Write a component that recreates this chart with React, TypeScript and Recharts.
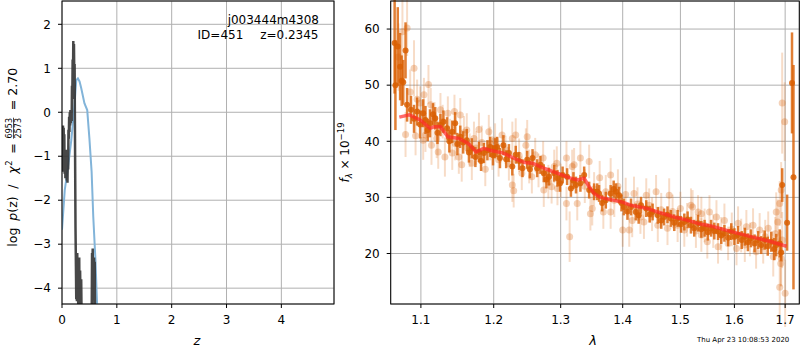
import React from 'react';
import { ComposedChart, Line, Scatter, ErrorBar, XAxis, YAxis, CartesianGrid } from 'recharts';

const FONT = '"DejaVu Sans", sans-serif';

// left panel: log p(z) and scaled chi2 vs redshift
const zTicks = [0, 1, 2, 3, 4];
const logpTicks = [-4, -3, -2, -1, 0, 1, 2];
const chiZ = [0.0, 0.05, 0.11, 0.17, 0.22, 0.26, 0.29, 0.32, 0.35, 0.41, 0.46, 0.5, 0.54, 0.57, 0.61, 0.63, 0.66];
const chiVal = [-2.67, -1.77, -1.24, -0.63, 0.05, 0.73, 0.77, 0.7, 0.55, 0.2, 0.05, -0.6, -1.35, -2.37, -3.36, -4.04, -5.0];
const pzZ = [
  0.0, 0.006, 0.012, 0.018, 0.024, 0.03, 0.036, 0.042, 0.048, 0.055,
  0.062, 0.068, 0.074, 0.08, 0.087, 0.094, 0.1, 0.106, 0.112, 0.118,
  0.124, 0.13, 0.136, 0.142, 0.148, 0.154, 0.16, 0.17, 0.176, 0.182,
  0.188, 0.194, 0.2, 0.206, 0.212, 0.218, 0.224, 0.23, 0.238, 0.246,
  0.254, 0.26, 0.266, 0.272, 0.278, 0.284, 0.29, 0.296, 0.302, 0.308,
  0.314, 0.32, 0.33, 0.34, 0.35, 0.36, 0.45, 0.54, 0.548, 0.554,
  0.56, 0.566, 0.572, 0.578, 0.584, 0.59, 0.596, 0.602, 0.62,
];
const pzVal = [
  -1.0, -0.35, -1.35, -0.3, -1.3, -0.35, -1.0, -0.5, -1.4, -0.9,
  -1.5, -1.0, -1.45, -0.85, -1.55, -0.95, -1.6, -0.9, -1.3, -0.4,
  -0.6, -0.1, -0.45, 0.0, -0.3, 0.05, -0.25, 0.0, -0.2, 0.6,
  0.3, 1.2, 0.7, 1.62, 0.9, 1.55, 0.8, 1.1, -0.8, -2.6,
  -3.5, -4.25, -3.25, -4.3, -3.2, -4.0, -3.3, -4.4, -3.5, -4.2,
  -3.3, -4.6, -3.6, -4.5, -3.8, -5.0, -7.0, -5.0, -3.2, -3.9,
  -3.1, -4.2, -3.4, -4.0, -3.3, -4.4, -3.4, -4.6, -6.0,
];

// right panel: spectrum
const lamTicks = [1.1, 1.2, 1.3, 1.4, 1.5, 1.6, 1.7];
const fluxTicks = [20, 30, 40, 50, 60];

const faintLam = [
  1.071, 1.076, 1.082, 1.08, 1.086, 1.091, 1.093, 1.095, 1.099, 1.103,
  1.104, 1.106, 1.11, 1.113, 1.114, 1.118, 1.121, 1.123, 1.126, 1.129,
  1.132, 1.136, 1.139, 1.142, 1.145, 1.146, 1.151, 1.153, 1.155, 1.158,
  1.162, 1.166, 1.169, 1.172, 1.175, 1.179, 1.183, 1.188, 1.193, 1.195,
  1.198, 1.202, 1.207, 1.212, 1.217, 1.222, 1.227, 1.227, 1.229, 1.232,
  1.237, 1.241, 1.247, 1.249, 1.252, 1.256, 1.261, 1.266, 1.273, 1.274,
  1.281, 1.286, 1.29, 1.294, 1.295, 1.3, 1.309, 1.309, 1.314, 1.318,
  1.321, 1.326, 1.331, 1.338, 1.345, 1.347, 1.35, 1.353, 1.362, 1.368,
  1.372, 1.38, 1.38, 1.386, 1.392, 1.4, 1.405, 1.411, 1.416, 1.419,
  1.425, 1.43, 1.436, 1.44, 1.445, 1.45, 1.457, 1.46, 1.466, 1.477,
  1.48, 1.486, 1.495, 1.5, 1.507, 1.512, 1.519, 1.522, 1.528, 1.532,
  1.538, 1.538, 1.544, 1.549, 1.553, 1.56, 1.566, 1.569, 1.575, 1.581,
  1.588, 1.595, 1.604, 1.607, 1.613, 1.62, 1.623, 1.63, 1.636, 1.642,
  1.649, 1.656, 1.66, 1.666, 1.676, 1.68, 1.682, 1.685, 1.689, 1.689,
  1.691, 1.692, 1.692, 1.694, 1.694, 1.699, 1.7,
];
const faintFlux = [
  55.0, 59.5, 60.2, 41.2, 48.8, 53.0, 41.0, 47.5, 46.8, 40.2,
  48.3, 41.1, 50.1, 46.5, 39.3, 44.0, 40.5, 38.1, 45.6, 43.5,
  37.2, 45.0, 41.0, 37.9, 45.3, 39.6, 37.2, 44.7, 35.8, 41.5,
  42.0, 38.4, 36.1, 40.5, 38.8, 42.1, 39.8, 35.0, 41.7, 39.6,
  37.9, 40.2, 36.7, 41.1, 38.5, 36.0, 40.5, 32.2, 31.2, 41.1,
  37.5, 34.3, 39.3, 40.8, 35.5, 33.7, 37.6, 34.8, 37.0, 31.3,
  32.8, 31.9, 35.5, 36.1, 31.6, 33.0, 37.0, 28.9, 23.0, 35.5,
  35.8, 28.9, 37.0, 32.0, 36.4, 27.1, 28.0, 31.5, 33.5, 27.4,
  31.0, 34.0, 27.4, 29.5, 32.0, 24.2, 30.5, 24.2, 25.9, 30.7,
  28.8, 26.5, 25.6, 30.4, 28.6, 27.0, 31.0, 25.05, 27.8, 24.5,
  30.4, 27.5, 25.05, 28.0, 24.2, 26.0, 28.6, 28.3, 24.0, 27.4,
  27.1, 23.3, 25.0, 22.1, 27.4, 24.0, 26.5, 21.2, 23.5, 25.9,
  21.8, 24.3, 20.9, 25.4, 23.2, 21.5, 24.75, 22.5, 25.05, 20.3,
  24.2, 21.2, 23.0, 24.5, 19.4, 23.5, 27.4, 25.6, 28.9, 14.0,
  18.2, 31.3, 19.1, 46.8, 22.4, 43.5, 12.9,
];
const faintErr = [
  6, 6, 5, 4, 4, 5, 3.5, 3.5, 3, 3.5,
  3, 3, 3.5, 3, 3.5, 3, 3.5, 3, 3, 3,
  3.5, 3, 3, 3, 3, 3, 3, 3, 3, 3,
  3, 3, 3, 3, 3, 3, 3, 3, 3, 3,
  3, 3, 3, 3, 2.5, 3, 3, 3, 3, 3,
  3, 3, 3, 3, 3, 3, 3, 3, 3, 3,
  3, 3, 3, 3, 3, 3, 3, 3, 4.5, 3,
  3, 3, 3, 3, 3, 3, 3, 3, 3, 3,
  3, 3, 3, 3, 3, 3, 3, 3, 3, 3,
  3, 3, 3, 3, 3, 3, 3, 3, 3, 3,
  3, 3, 3, 3, 3, 3, 3, 3, 3, 3,
  3, 3, 3, 3, 3, 3, 3, 3, 3, 3,
  3, 3, 3, 3, 3, 3, 3, 3, 3, 3,
  3, 3, 3, 3, 3.5, 3, 3.5, 4, 4, 6,
  4, 5, 5, 9, 5, 7, 6,
];

const darkLam = [
  1.066, 1.067, 1.07, 1.073, 1.075, 1.077, 1.08, 1.082, 1.087, 1.091,
  1.095, 1.099, 1.103, 1.106, 1.109, 1.112, 1.116, 1.119, 1.122, 1.126,
  1.13, 1.135, 1.138, 1.142, 1.146, 1.149, 1.153, 1.157, 1.162, 1.165,
  1.169, 1.174, 1.179, 1.182, 1.186, 1.191, 1.195, 1.199, 1.202, 1.205,
  1.209, 1.214, 1.218, 1.222, 1.227, 1.232, 1.237, 1.242, 1.249, 1.253,
  1.257, 1.264, 1.269, 1.274, 1.278, 1.282, 1.29, 1.295, 1.299, 1.303,
  1.31, 1.316, 1.32, 1.324, 1.331, 1.337, 1.345, 1.353, 1.358, 1.361,
  1.366, 1.372, 1.38, 1.385, 1.389, 1.394, 1.398, 1.402, 1.408, 1.414,
  1.422, 1.427, 1.431, 1.44, 1.446, 1.451, 1.46, 1.466, 1.471, 1.477,
  1.483, 1.489, 1.495, 1.501, 1.507, 1.513, 1.519, 1.525, 1.532, 1.538,
  1.544, 1.55, 1.556, 1.562, 1.569, 1.575, 1.581, 1.588, 1.594, 1.6,
  1.607, 1.614, 1.62, 1.626, 1.632, 1.639, 1.646, 1.652, 1.659, 1.665,
  1.672, 1.678, 1.682, 1.689, 1.694, 1.692, 1.704, 1.714, 1.717,
];
const darkFlux = [
  57.5, 50.0, 56.9, 53.3, 50.8, 50.5, 56.2, 46.5, 45.6, 44.0,
  45.3, 43.0, 45.0, 43.8, 42.0, 43.2, 44.8, 44.1, 41.5, 42.9,
  43.5, 42.3, 40.0, 41.7, 43.2, 39.5, 40.8, 39.8, 40.2, 38.0,
  38.75, 37.2, 38.1, 36.5, 37.9, 38.4, 39.0, 37.5, 38.75, 39.0,
  37.0, 39.3, 36.8, 37.9, 35.5, 37.6, 36.5, 35.2, 36.7, 35.0,
  37.0, 35.2, 35.8, 34.3, 33.2, 33.7, 34.3, 33.4, 32.5, 34.0,
  33.7, 31.6, 33.0, 32.2, 32.5, 34.0, 31.3, 31.0, 31.0, 30.7,
  29.0, 29.5, 30.7, 31.5, 31.0, 30.4, 29.0, 28.3, 27.5, 28.3,
  27.4, 26.8, 28.6, 28.0, 27.0, 27.4, 26.8, 25.9, 26.5, 26.9,
  26.25, 25.5, 26.25, 25.2, 25.6, 26.0, 25.05, 24.5, 25.4, 24.3,
  24.5, 23.8, 24.5, 24.0, 23.9, 23.2, 23.6, 22.8, 23.9, 23.0,
  23.3, 22.4, 23.0, 22.0, 22.7, 21.8, 22.4, 21.5, 22.4, 21.3,
  22.1, 20.8, 21.5, 21.8, 32.2, 20.2, 25.5, 50.4, 33.6,
];
const darkErr = [
  9, 8, 7, 6, 4.5, 4, 5, 3, 2.5, 2.5,
  2.5, 2.5, 2.5, 2.5, 2, 2.5, 2, 2, 2, 2,
  2, 2, 2, 2, 2, 2, 2, 2, 2, 1.8,
  1.8, 1.8, 1.8, 1.8, 1.8, 1.8, 1.8, 1.8, 1.8, 1.8,
  1.8, 1.8, 1.6, 1.6, 1.6, 1.6, 1.6, 1.6, 1.6, 1.6,
  1.6, 1.6, 1.6, 1.6, 1.6, 1.6, 1.5, 1.5, 1.5, 1.5,
  1.5, 1.5, 1.5, 1.5, 1.5, 1.5, 1.5, 1.5, 1.5, 1.5,
  1.5, 1.5, 1.5, 1.5, 1.5, 1.5, 1.5, 1.5, 1.5, 1.5,
  1.5, 1.5, 1.5, 1.5, 1.5, 1.5, 1.5, 1.5, 1.5, 1.5,
  1.5, 1.5, 1.5, 1.5, 1.5, 1.5, 1.5, 1.5, 1.5, 1.5,
  1.5, 1.5, 1.5, 1.5, 1.5, 1.5, 1.5, 1.5, 1.5, 1.5,
  1.6, 1.6, 1.6, 1.6, 1.6, 1.6, 1.6, 1.6, 1.7, 1.7,
  1.8, 2, 2, 2.5, 3, 1.5, 5, 9, 20,
];

const modelLam = [
  1.072, 1.085, 1.099, 1.112, 1.118, 1.126, 1.136, 1.151, 1.164, 1.175,
  1.186, 1.195, 1.214, 1.229, 1.245, 1.257, 1.274, 1.295, 1.316, 1.326,
  1.337, 1.345, 1.353, 1.363, 1.38, 1.398, 1.414, 1.443, 1.46, 1.489,
  1.513, 1.538, 1.556, 1.594, 1.632, 1.672, 1.703,
];
const modelFlux = [
  44.3, 44.7, 43.8, 42.3, 42.6, 42.6, 40.8, 40.5, 39.6, 38.1,
  38.75, 38.4, 37.9, 37.0, 36.2, 36.1, 35.2, 34.3, 33.4, 33.1,
  33.4, 31.9, 30.7, 30.0, 29.6, 29.2, 28.6, 28.0, 27.4, 26.5,
  25.9, 25.2, 24.9, 23.9, 23.0, 22.1, 21.3,
];

const zip = (xs: number[], ys: number[], es?: number[]) =>
  xs.map((x, i) => ({ x, y: ys[i], e: es ? es[i] : 0 }));

const chiData = zip(chiZ, chiVal);
const pzData = zip(pzZ, pzVal);
const faintData = zip(faintLam, faintFlux, faintErr);
const darkData = zip(darkLam, darkFlux, darkErr);
const modelData = zip(modelLam, modelFlux);

const ORANGE = '#d95f02';
const tickStyle = { fontSize: 12, fill: '#000', fontFamily: FONT };
const fmtMinus = (v: number) => String(v).replace('-', '\u2212');

export default function App() {
  return (
    <div style={{ position: 'absolute', left: 0, top: 0, width: 800, height: 350, background: '#fff', fontFamily: FONT }}>
      <div style={{ position: 'absolute', left: 0, top: 0 }}>
        <ComposedChart width={340} height={350} margin={{ top: 1, right: 6, bottom: 16, left: 0 }}>
          <CartesianGrid stroke="#b0b0b0" strokeWidth={1} />
          <XAxis
            type="number"
            dataKey="x"
            domain={[0, 4.96]}
            ticks={zTicks}
            allowDataOverflow
            height={30}
            axisLine={false}
            tickLine={{ stroke: '#000' }}
            tickSize={4}
            tickMargin={7}
            tick={tickStyle}
          />
          <YAxis
            type="number"
            dataKey="y"
            domain={[-4.36, 2.53]}
            ticks={logpTicks}
            allowDataOverflow
            width={62}
            axisLine={false}
            tickLine={{ stroke: '#000' }}
            tickSize={4}
            tickMargin={7}
            tick={tickStyle}
            tickFormatter={fmtMinus}
          />
          <Line data={chiData} dataKey="y" stroke="#82b4d9" strokeWidth={2} dot={false} isAnimationActive={false} />
          <Line data={pzData} dataKey="y" stroke="#333" strokeOpacity={0.9} strokeWidth={2.5} dot={false} isAnimationActive={false} />
        </ComposedChart>
      </div>

      <div style={{ position: 'absolute', left: 340, top: 0 }}>
        <ComposedChart width={460} height={350} margin={{ top: 1, right: 0.7, bottom: 16, left: 0 }}>
          <CartesianGrid stroke="#b0b0b0" strokeWidth={1} />
          <XAxis
            type="number"
            dataKey="x"
            scale="log"
            domain={[1.061, 1.729]}
            ticks={lamTicks}
            allowDataOverflow
            height={30}
            axisLine={false}
            tickLine={{ stroke: '#000' }}
            tickSize={4}
            tickMargin={7}
            tick={tickStyle}
          />
          <YAxis
            type="number"
            dataKey="y"
            domain={[11, 65]}
            ticks={fluxTicks}
            allowDataOverflow
            width={50.7}
            axisLine={false}
            tickLine={{ stroke: '#000' }}
            tickSize={4}
            tickMargin={7}
            tick={tickStyle}
          />
          <Scatter
            data={faintData}
            isAnimationActive={false}
            shape={(p: any) => <circle cx={p.cx} cy={p.cy} r={3.5} fill={ORANGE} fillOpacity={0.28} />}
          >
            <ErrorBar dataKey="e" direction="y" width={0} stroke="rgba(217,95,2,0.22)" strokeWidth={2} />
          </Scatter>
          <Scatter
            data={darkData}
            isAnimationActive={false}
            shape={(p: any) => <circle cx={p.cx} cy={p.cy} r={3} fill={ORANGE} fillOpacity={0.85} />}
          >
            <ErrorBar dataKey="e" direction="y" width={0} stroke="rgba(217,95,2,0.8)" strokeWidth={2.5} />
          </Scatter>
          <Line
            data={modelData}
            dataKey="y"
            stroke="#ff2a2a"
            strokeOpacity={0.7}
            strokeWidth={3.5}
            dot={false}
            isAnimationActive={false}
            zIndex={700}
          />
        </ComposedChart>
      </div>

      <svg width={800} height={350} style={{ position: 'absolute', left: 0, top: 0, pointerEvents: 'none' }} fontFamily={FONT}>
        <rect x={62} y={1} width={272} height={303} fill="none" stroke="#000" strokeWidth={1} />
        <rect x={390.7} y={1} width={408.6} height={303} fill="none" stroke="#000" strokeWidth={1} />

        <text x={319} y={24} fontSize={12} textAnchor="end">j003444m4308</text>
        <text x={243.3} y={39} fontSize={12} textAnchor="end">ID=451</text>
        <text x={318.5} y={39} fontSize={12} textAnchor="end">z=0.2345</text>

        <g transform="translate(17,246.7) rotate(-90)" fontSize={12.5}>
          <text x={0} y={0}>log</text>
          <text x={26} y={0} fontStyle="italic">p</text>
          <text x={34} y={0}>(z)</text>
          <text x={58} y={0}>/</text>
          <text x={73} y={0} fontStyle="italic">χ</text>
          <text x={81} y={-5} fontSize={8.5}>2</text>
          <text x={93} y={0}>=</text>
          <text x={118.5} y={-5} fontSize={8} textAnchor="middle">6953</text>
          <line x1={108} x2={129} y1={-3.5} y2={-3.5} stroke="#000" strokeWidth={0.7} />
          <text x={118.5} y={3.5} fontSize={8} textAnchor="middle">2573</text>
          <text x={136.5} y={0}>= 2.70</text>
        </g>

        <text x={197} y={345} fontSize={13} fontStyle="italic" textAnchor="middle">z</text>

        <g transform="translate(349,152.5) rotate(-90)">
          <text x={0} y={0} fontSize={12} textAnchor="middle">
            <tspan fontStyle="italic">f</tspan>
            <tspan fontSize={8.5} fontStyle="italic" dy={3}>λ</tspan>
            <tspan dy={-3}> × 10</tspan>
            <tspan fontSize={8.5} dy={-5}>−19</tspan>
          </text>
        </g>

        <text x={593} y={345} fontSize={13} fontStyle="italic" textAnchor="middle">λ</text>
        <text x={697} y={342} fontSize={7}>Thu Apr 23 10:08:53 2020</text>
      </svg>
    </div>
  );
}
